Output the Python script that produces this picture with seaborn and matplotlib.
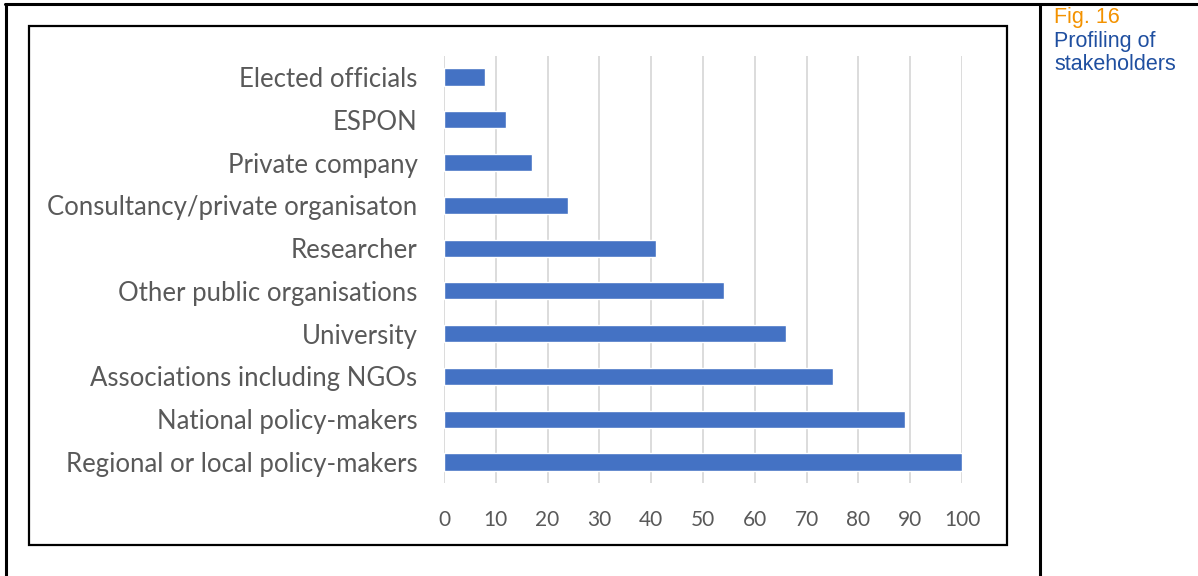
import pandas as pd
import seaborn as sns
import matplotlib.pyplot as plt
from matplotlib.lines import Line2D
from matplotlib.patches import Rectangle

# --- dados ---
categories = [
    'Elected officials',
    'ESPON',
    'Private company',
    'Consultancy/private organisaton',
    'Researcher',
    'Other public organisations',
    'University',
    'Associations including NGOs',
    'National policy-makers',
    'Regional or local policy-makers',
]
values = [8, 12, 17, 24, 41, 54, 66, 75, 89, 100]
x_ticks = [0, 10, 20, 30, 40, 50, 60, 70, 80, 90, 100]

df = pd.DataFrame({'category': categories, 'count': values})

sns.set_theme(style='white')
plt.rcParams['font.family'] = ['Lato', 'DejaVu Sans']

W, H = 1198, 576
fig = plt.figure(figsize=(W / 100, H / 100), dpi=100)
ax = fig.add_axes([444 / W, 1 - 483.4 / H, (962 - 444) / W, (483.4 - 55.6) / H])

sns.barplot(data=df, x='count', y='category', orient='h', color='#4472C4',
            width=0.4, saturation=1, ax=ax, zorder=3)

ax.set_xlim(0, 100)
ax.set_xticks(x_ticks)
ax.set_ylim(9.5, -0.5)
ax.grid(axis='x', color='#D9D9D9', linewidth=1.3, zorder=0)
for s in ax.spines.values():
    s.set_visible(False)
ax.set_xlabel('')
ax.set_ylabel('')
ax.tick_params(axis='y', length=0, pad=19, labelsize=18.5, labelcolor='#595959')
ax.tick_params(axis='x', length=0, pad=19, labelsize=15, labelcolor='#595959')

# --- molduras (caixa do gráfico e tabela) ---
fig.add_artist(Rectangle((29 / W, 1 - 545 / H), (1007 - 29) / W, (545 - 26) / H,
                         transform=fig.transFigure, fill=False,
                         edgecolor='black', linewidth=1.6))
lw = 2.2
fig.add_artist(Line2D([5 / W, 1], [1 - 4 / H, 1 - 4 / H], transform=fig.transFigure,
                      color='black', linewidth=lw))
fig.add_artist(Line2D([6 / W, 6 / W], [0, 1 - 4 / H], transform=fig.transFigure,
                      color='black', linewidth=lw))
fig.add_artist(Line2D([1040 / W, 1040 / W], [0, 1 - 4 / H], transform=fig.transFigure,
                      color='black', linewidth=lw))

# --- legenda da figura ---
fig.text(1054 / W, 1 - 7 / H, 'Fig. 16', color='#F39200', fontsize=15.5,
         family='Liberation Sans', va='top', ha='left')
fig.text(1054 / W, 1 - 31 / H, 'Profiling of\nstakeholders', color='#1F4FA0',
         fontsize=15.5, family='Liberation Sans', va='top', ha='left',
         linespacing=1.1)

fig.savefig('out.png', dpi=100)
plt.close()
